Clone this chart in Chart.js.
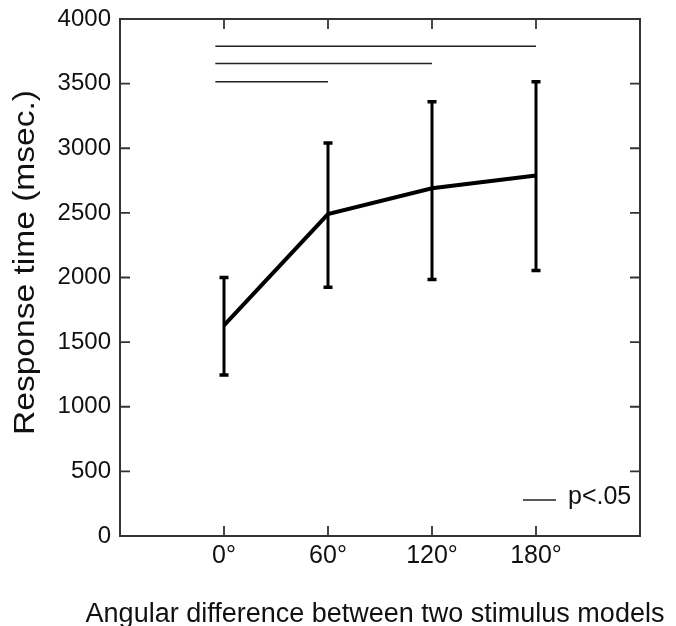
<!DOCTYPE html>
<html>
<head>
<meta charset="utf-8">
<script src="https://cdn.jsdelivr.net/npm/chart.js@4/dist/chart.umd.min.js"></script>
<style>
  html, body { margin: 0; padding: 0; background: #fff; }
  #wrap { width: 676px; height: 626px; }
</style>
</head>
<body>
<div id="wrap"><canvas id="rtChart" width="676" height="626"></canvas></div>
<script>
// values
const angles = [0, 60, 120, 180];
const meanRT = [1630, 2490, 2690, 2790];
const errLow = [1245, 1925, 1985, 2055];
const errHigh = [2000, 3040, 3360, 3515];

// significance brackets (p<.05): start angle, end angle, height
const sigFrom = [-5, -5, -5];
const sigTo = [180, 120, 60];
const sigY = [3790, 3655, 3515];

const yMin = 0, yMax = 4000, yStep = 500;
const xMin = -60, xMax = 240, xStep = 60;

const FONT = "'Liberation Sans', Arial, sans-serif";
const AXIS = "#333";
const yTitle = "Response time (msec.)";
const xTitle = "Angular difference between two stimulus models";

const sigSets = sigY.map((y, i) => ({
  data: [{ x: sigFrom[i], y: y }, { x: sigTo[i], y: y }],
  borderColor: "#222",
  borderWidth: 1.5,
  pointRadius: 0,
  fill: false,
}));

// error bars, inward ticks, frame, axis titles and the little legend
const extras = {
  id: "extras",
  afterDatasetsDraw(chart) {
    const ctx = chart.ctx;
    const xs = chart.scales.x, ys = chart.scales.y;
    const a = chart.chartArea;
    ctx.save();

    // error bars
    ctx.strokeStyle = "#000";
    for (let i = 0; i < angles.length; i++) {
      const px = xs.getPixelForValue(angles[i]);
      const lo = ys.getPixelForValue(errLow[i]);
      const hi = ys.getPixelForValue(errHigh[i]);
      ctx.lineWidth = 3;
      ctx.beginPath();
      ctx.moveTo(px, lo);
      ctx.lineTo(px, hi);
      ctx.stroke();
      ctx.lineWidth = 3.5;
      ctx.beginPath();
      ctx.moveTo(px - 4.5, lo); ctx.lineTo(px + 4.5, lo);
      ctx.moveTo(px - 4.5, hi); ctx.lineTo(px + 4.5, hi);
      ctx.stroke();
    }

    // frame top + right
    ctx.strokeStyle = AXIS;
    ctx.lineWidth = 2;
    ctx.beginPath();
    ctx.moveTo(a.left, a.top); ctx.lineTo(a.right, a.top); ctx.lineTo(a.right, a.bottom);
    ctx.stroke();

    // inward ticks
    ctx.lineWidth = 1.8;
    ctx.beginPath();
    for (let v = yMin + yStep; v < yMax; v += yStep) {
      const py = ys.getPixelForValue(v);
      ctx.moveTo(a.left, py); ctx.lineTo(a.left + 10, py);
      ctx.moveTo(a.right, py); ctx.lineTo(a.right - 10, py);
    }
    angles.forEach(v => {
      const px = xs.getPixelForValue(v);
      ctx.moveTo(px, a.bottom); ctx.lineTo(px, a.bottom - 10);
      ctx.moveTo(px, a.top); ctx.lineTo(px, a.top + 10);
    });
    ctx.stroke();

    // legend
    const ly = a.bottom - 36;
    ctx.strokeStyle = "#222";
    ctx.lineWidth = 1.5;
    ctx.beginPath();
    ctx.moveTo(a.right - 117, ly); ctx.lineTo(a.right - 84, ly);
    ctx.stroke();
    ctx.fillStyle = "#111";
    ctx.font = "25px " + FONT;
    ctx.textBaseline = "middle";
    ctx.textAlign = "left";
    ctx.fillText("p<.05", a.right - 72, ly - 3);

    // x title (wider than the plot, so no maxWidth squeeze)
    ctx.font = "27px " + FONT;
    ctx.textAlign = "center";
    ctx.textBaseline = "alphabetic";
    ctx.fillText(xTitle, (a.left + a.right) / 2 - 5, chart.height - 4);

    // y title, a bit stretched along its length like the original
    ctx.translate(26, (a.top + a.bottom) / 2 - 15);
    ctx.rotate(-Math.PI / 2);
    ctx.font = "29px " + FONT;
    ctx.textBaseline = "middle";
    const w = ctx.measureText(yTitle).width;
    ctx.scale(345 / w, 1);
    ctx.fillText(yTitle, 0, 0);

    ctx.restore();
  }
};

const ctx = document.getElementById("rtChart").getContext("2d");
new Chart(ctx, {
  type: "line",
  data: {
    datasets: [
      {
        data: angles.map((a, i) => ({ x: a, y: meanRT[i] })),
        borderColor: "#000",
        borderWidth: 4,
        pointRadius: 0,
        tension: 0,
        fill: false,
      },
      ...sigSets,
    ],
  },
  options: {
    responsive: false,
    animation: false,
    layout: { padding: { top: 19, right: 36, left: 0, bottom: 0 } },
    plugins: { legend: { display: false }, tooltip: { enabled: false } },
    scales: {
      x: {
        type: "linear",
        min: xMin,
        max: xMax,
        afterFit: s => { s.height = 90; s.paddingLeft = 0; s.paddingRight = 0; },
        afterBuildTicks: s => {
          s.ticks = [];
          for (let v = xMin; v <= xMax; v += xStep) s.ticks.push({ value: v });
        },
        grid: { display: false, drawTicks: false },
        border: { display: true, color: AXIS, width: 2 },
        ticks: {
          padding: 5,
          color: "#111",
          font: { family: FONT, size: 25 },
          callback: v => (angles.includes(v) ? v + "°" : ""),
        },
        title: { display: false },
      },
      y: {
        min: yMin,
        max: yMax,
        afterFit: s => { s.width = 120; s.paddingTop = 0; s.paddingBottom = 0; },
        grid: { display: false, drawTicks: false },
        border: { display: true, color: AXIS, width: 2 },
        ticks: {
          stepSize: yStep,
          padding: 9,
          color: "#111",
          font: { family: FONT, size: 24 },
          callback: v => String(v),
        },
        title: { display: false },
      },
    },
  },
  plugins: [extras],
});
</script>
</body>
</html>
